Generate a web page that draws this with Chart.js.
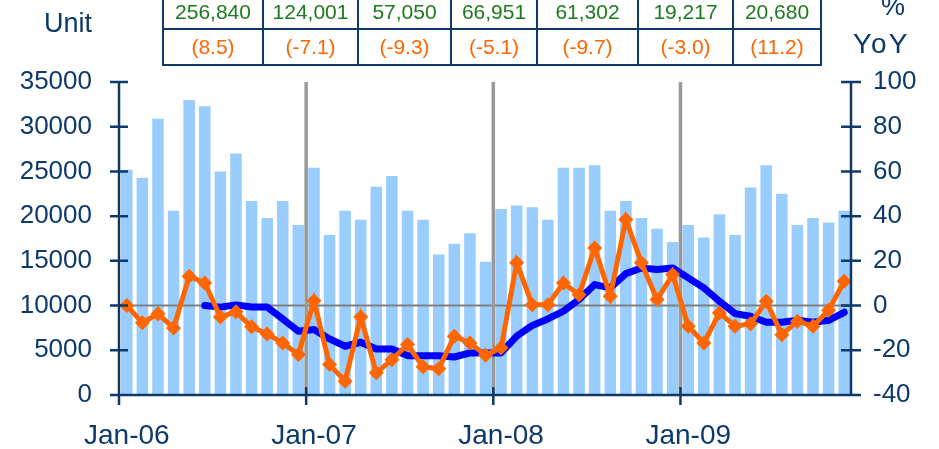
<!DOCTYPE html>
<html><head><meta charset="utf-8">
<script src="https://cdn.jsdelivr.net/npm/chart.js@4.4.1/dist/chart.umd.min.js"></script>
<style>
html,body{margin:0;padding:0;background:#fff;overflow:hidden}
#wrap{position:relative;width:939px;height:449px;font-family:"Liberation Sans",Arial,sans-serif;overflow:hidden}
canvas{position:absolute;left:0;top:0}
.lbl{position:absolute;color:#0d3a6b;font-size:27px;line-height:1;white-space:nowrap}
.cell{position:absolute;text-align:center;font-size:21px;line-height:1;white-space:nowrap}
.ln{position:absolute;background:#0d3a6b}
</style></head><body>
<div id="wrap"><canvas id="c" width="939" height="449"></canvas></div>
<script>
// ---- data ----
const categories = [
 'Jan-06','Feb-06','Mar-06','Apr-06','May-06','Jun-06','Jul-06','Aug-06','Sep-06','Oct-06','Nov-06','Dec-06',
 'Jan-07','Feb-07','Mar-07','Apr-07','May-07','Jun-07','Jul-07','Aug-07','Sep-07','Oct-07','Nov-07','Dec-07',
 'Jan-08','Feb-08','Mar-08','Apr-08','May-08','Jun-08','Jul-08','Aug-08','Sep-08','Oct-08','Nov-08','Dec-08',
 'Jan-09','Feb-09','Mar-09','Apr-09','May-09','Jun-09','Jul-09','Aug-09','Sep-09','Oct-09','Nov-09'];
const volumeUnits = [
 25200,24300,30900,20600,33000,32300,25000,27000,21700,19800,21700,19000,
 25400,17900,20600,19600,23300,24500,20600,19600,15700,16900,18100,14900,
 20800,21200,21000,19600,25400,25400,25700,20600,21700,19800,18600,17100,
 19000,17600,20200,17900,23200,25700,22500,19000,19800,19300,20600];
const yoyPct = [
 0,-7.7,-3.7,-10,13.1,10.1,-5.1,-2.8,-9.5,-12.7,-16.7,-21.9,
 2.2,-26.4,-33.8,-5.1,-30.1,-24.2,-17.4,-27.4,-28.3,-13.7,-16.7,-22.2,
 -18.9,19.1,0.4,0.4,10.1,4.8,25.8,4.2,38.5,19.1,2.7,13.9,
 -9.2,-16.7,-3.3,-9.2,-8.1,1.9,-13,-7,-9.2,-2.1,10.9];
const trendPct = [
 null,null,null,null,null,0,-0.7,0.3,-0.6,-0.6,-6,-11.5,
 -10.7,-14.9,-18.2,-16.4,-19.4,-19.4,-22.4,-22.4,-22.4,-23,-21.2,-21.2,
 -21.2,-13.7,-8.9,-6,-2.5,2.7,9.4,7.9,14.3,16.8,16.1,16.8,
 12.4,7.9,1.9,-3.6,-4.8,-7.5,-7.5,-6.6,-7.5,-6.6,-3];
const leftTickValues = [0,5000,10000,15000,20000,25000,30000,35000];
const rightTickValues = [-40,-20,0,20,40,60,80,100];
const tableTotals = ['256,840','124,001','57,050','66,951','61,302','19,217','20,680'];
const tableYoY = ['(8.5)','(-7.1)','(-9.3)','(-5.1)','(-9.7)','(-3.0)','(11.2)'];

// ---- layout / style ----
const NAVY = '#0d3a6b';
const FONT = '"Liberation Sans", Arial, sans-serif';
const tableEdges = [163,263,358,451,537,638,733,821];
const wrap = document.getElementById('wrap');
function addDiv(cls, css, text){
  const d = document.createElement('div'); d.className = cls;
  Object.assign(d.style, css); if(text!==undefined) d.textContent = text; wrap.appendChild(d); return d;
}
// table
for(let i=0;i<tableTotals.length;i++){
  const l = tableEdges[i], w = tableEdges[i+1]-tableEdges[i];
  addDiv('cell',{left:l+'px',width:w+'px',top:'1px',color:'#1e7a1e'},tableTotals[i]);
  addDiv('cell',{left:l+'px',width:w+'px',top:'36px',color:'#ff6600'},tableYoY[i]);
}
tableEdges.forEach(x=>addDiv('ln',{left:(x-1)+'px',top:'0px',width:'2px',height:'66px'}));
[29,65].forEach(y=>addDiv('ln',{left:(tableEdges[0]-1)+'px',top:(y-1)+'px',width:(tableEdges[7]-tableEdges[0]+2)+'px',height:'2px'}));
addDiv('lbl',{left:'44px',top:'10px'},'Unit');
addDiv('lbl',{left:'881px',top:'-7px'},'%');
addDiv('lbl',{left:'853px',top:'30px',fontSize:'28px',letterSpacing:'2px'},'YoY');

const decor = {
  id:'decor',
  afterDatasetDraw(chart,args){
    if(args.index!==0) return;
    const {ctx,chartArea:a,scales} = chart;
    const x = scales.x, yr = scales.yR;
    ctx.save();
    ctx.strokeStyle='#808080'; ctx.lineWidth=2;
    const y0 = yr.getPixelForValue(0);
    ctx.beginPath(); ctx.moveTo(a.left,y0); ctx.lineTo(a.right,y0); ctx.stroke();
    ctx.strokeStyle='#999999'; ctx.lineWidth=3.5;
    categories.forEach((c,i)=>{
      if(i>0 && c.startsWith('Jan')){
        const xp = (x.getPixelForValue(i-1)+x.getPixelForValue(i))/2;
        ctx.beginPath(); ctx.moveTo(xp,a.top); ctx.lineTo(xp,a.bottom); ctx.stroke();
      }
    });
    ctx.restore();
  },
  afterDatasetsDraw(chart){
    const {ctx,chartArea:a,scales} = chart;
    const x = scales.x, yl = scales.yL, yr = scales.yR;
    ctx.save();
    ctx.strokeStyle=NAVY; ctx.lineWidth=2.5;
    ctx.beginPath();
    ctx.moveTo(a.left,a.top); ctx.lineTo(a.left,a.bottom);
    leftTickValues.forEach(v=>{const y=yl.getPixelForValue(v); ctx.moveTo(a.left-9,y); ctx.lineTo(a.left+9,y);});
    const rx = a.right-1;
    ctx.moveTo(rx,a.top); ctx.lineTo(rx,a.bottom);
    rightTickValues.forEach(v=>{const y=yr.getPixelForValue(v); ctx.moveTo(rx-10,y); ctx.lineTo(rx+10,y);});
    ctx.moveTo(a.left,a.bottom); ctx.lineTo(a.right+1,a.bottom);
    const half = (x.getPixelForValue(1)-x.getPixelForValue(0))/2;
    categories.forEach((c,i)=>{
      if(c.startsWith('Jan')){
        const xp = x.getPixelForValue(i)-half;
        ctx.moveTo(xp,a.bottom-8); ctx.lineTo(xp,a.bottom+10);
      }
    });
    ctx.stroke();
    ctx.restore();
  }
};

new Chart(document.getElementById('c'),{
  data:{
    labels:categories,
    datasets:[
      {type:'bar',data:volumeUnits,yAxisID:'yL',backgroundColor:'#99ccff',barPercentage:0.74,categoryPercentage:1,order:3},
      {type:'line',data:yoyPct,yAxisID:'yR',borderColor:'#ff6600',backgroundColor:'#ff6600',borderWidth:5,
       pointStyle:'rectRot',pointRadius:7.5,pointBorderWidth:0,tension:0,order:1},
      {type:'line',data:trendPct,yAxisID:'yR',borderColor:'#0000ff',borderWidth:7,pointRadius:0,tension:0,
       borderCapStyle:'round',borderJoinStyle:'round',order:2,spanGaps:false}
    ]
  },
  options:{
    responsive:false,animation:false,
    layout:{padding:{top:82,left:0,right:0,bottom:0}},
    plugins:{legend:{display:false},tooltip:{enabled:false}},
    scales:{
      x:{type:'category',offset:true,grid:{display:false,drawTicks:false},border:{display:false},
        ticks:{autoSkip:false,maxRotation:0,minRotation:0,padding:24,color:NAVY,
          font:{family:FONT,size:28},
          callback:(v,i)=>categories[i].startsWith('Jan')?categories[i]:''},
        afterFit:s=>{s.height=54;}},
      yL:{position:'left',min:0,max:35000,grid:{display:false,drawTicks:false},border:{display:false},
        ticks:{stepSize:5000,padding:27,color:NAVY,font:{family:FONT,size:26},callback:v=>String(v)},
        afterFit:s=>{s.width=119;}},
      yR:{position:'right',min:-40,max:100,grid:{display:false,drawTicks:false},border:{display:false},
        ticks:{stepSize:20,padding:21,color:NAVY,font:{family:FONT,size:26},callback:v=>String(v)},
        afterFit:s=>{s.width=87;}}
    }
  },
  plugins:[decor]
});
</script>
</body></html>
